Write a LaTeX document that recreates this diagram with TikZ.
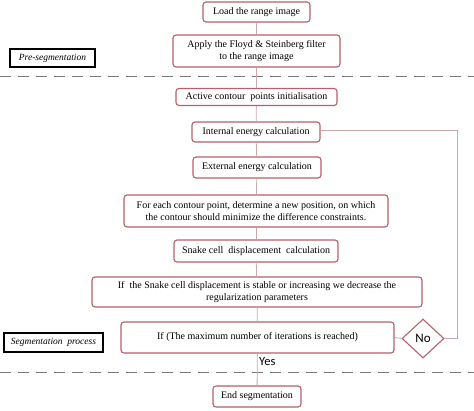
\documentclass[tikz,border=0pt]{standalone}
\usepackage{fontspec}
\setmainfont{Liberation Serif}
\newfontfamily\labelfont{Carlito}
\usetikzlibrary{shapes.geometric}
\definecolor{boxred}{HTML}{B5606A}
\definecolor{linkc}{HTML}{C9A9AC}
\definecolor{dashc}{HTML}{7A7A7A}
\begin{document}
\begin{tikzpicture}[x=1pt,y=-1pt,
  stepbox/.style={draw=boxred, line width=1.1pt, rounded corners=3pt, fill=white, font=\fontsize{10}{12}\selectfont, align=center, inner sep=0pt},
  phase/.style={draw=black, line width=1.3pt, font=\fontsize{9.5}{11}\selectfont\itshape, inner sep=0pt},
  link/.style={draw=linkc, line width=0.8pt},
  sep/.style={draw=dashc, line width=0.9pt, dash pattern=on 11pt off 7pt}]
\useasboundingbox (0,0) rectangle (474,410);
% separators
\draw[sep] (0,76) -- (474,76);
\draw[sep] (0,372) -- (474,372);
% nodes
\node[stepbox, minimum width=107pt, minimum height=20pt] (n1) at (256.5,12) {Load the range image};
\node[stepbox, minimum width=167pt, minimum height=32pt] (n2) at (256.5,51) {Apply the Floyd \& Steinberg filter\\to the range image};
\node[stepbox, minimum width=161pt, minimum height=17pt] (n3) at (256.5,97) {Active contour\ \ points initialisation};
\node[stepbox, minimum width=128pt, minimum height=20pt] (n4) at (256,132) {Internal energy calculation};
\node[stepbox, minimum width=128pt, minimum height=21pt] (n5) at (257,167.5) {External energy calculation};
\node[stepbox, minimum width=264pt, minimum height=32pt] (n6) at (256,211) {For each contour point, determine a new position, on which\\the contour should minimize the difference constraints.};
\node[stepbox, minimum width=164pt, minimum height=22pt] (n7) at (256,251) {Snake cell\ \ displacement\ \ calculation};
\node[stepbox, minimum width=330pt, minimum height=30pt] (n8) at (257,292) {If\ \ the Snake cell displacement is stable or increasing we decrease the\\regularization parameters};
\node[stepbox, minimum width=273pt, minimum height=31pt] (n9) at (257.5,337.5) {If (The maximum number of iterations is reached)};
\node[draw=boxred, line width=1.1pt, diamond, minimum width=42pt, minimum height=39pt, inner sep=0pt, fill=white, font=\labelfont\fontsize{13}{15}\selectfont] (no) at (423,338.5) {No};
\node[stepbox, minimum width=88pt, minimum height=21pt] (n10) at (257,396.5) {End segmentation};
\node[font=\labelfont\fontsize{12.5}{14}\selectfont, anchor=west, inner sep=0pt] (yes) at (259,362) {Yes};
\node[phase, minimum width=85pt, minimum height=18pt] (p1) at (52.5,58) {Pre-segmentation};
\node[phase, minimum width=99pt, minimum height=19pt] (p2) at (53.5,342.5) {Segmentation\ \ process};
\coordinate (c1) at (457,338.5);
\coordinate (c2) at (457,130);
% connectors
\draw[link] (n1) -- (n2);
\draw[link] (n2) -- (n3);
\draw[link] (n3) -- (n4);
\draw[link] (n4) -- (n5);
\draw[link] (n5) -- (n6);
\draw[link] (n6) -- (n7);
\draw[link] (n7) -- (n8);
\draw[link] (n8) -- (n9);
\draw[link] (n9) -- (n10);
\draw[link] (n9.east) -- (no.west);
\draw[link] (no.east) -- (c1) -- (c2) -- (n4.east |- c2);
\end{tikzpicture}
\end{document}
